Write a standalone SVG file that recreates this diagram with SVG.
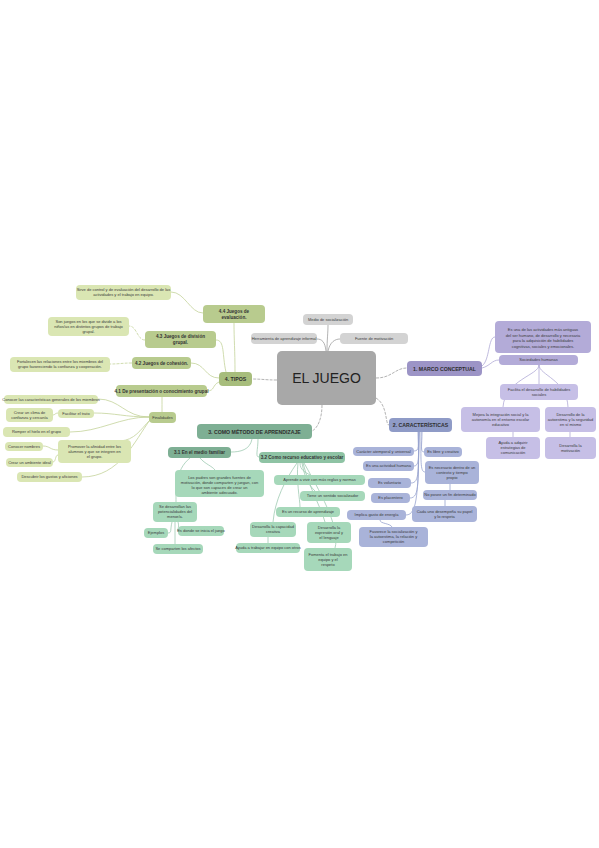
<svg xmlns="http://www.w3.org/2000/svg" width="599" height="848" viewBox="0 0 599 848">
<style>
text{font-family:"Liberation Sans",Arial,sans-serif;text-anchor:middle;fill:#3a3a3a}
.f14{font-size:14px;fill:#222}
.fm{font-size:5.2px;font-weight:bold;fill:#2e2e2e}
.fs{font-size:4.6px;font-weight:bold;fill:#333}
.fl{font-size:4px}
.cg{fill:#a8a8a8}.cgl{fill:#d3d3d3}
.po{fill:#9c94c6}.pl{fill:#c6bfe6}.pt{fill:#b3abd8}
.bo{fill:#8f9bc7}.bl{fill:#a9b3d9}
.eo{fill:#7eaf94}.es{fill:#8ec3a4}.el{fill:#a6d8ba}
.to{fill:#a7bd7c}.ts{fill:#b8cb8e}.tl{fill:#dae6b3}
#connectors path{fill:none;stroke-width:0.8}
.kg{stroke:#a0a0a0}.kd{stroke-dasharray:3 1.2}
.kp{stroke:#b0a9d6}.kb{stroke:#98a3cf}.ke{stroke:#9fcab2}.kt{stroke:#c4d39a}
</style>
<rect width="599" height="848" fill="#ffffff"/>
<g id="connectors">
<path class="kg kd" d="M277,380 C265,380 262,379 252,379"/>
<path class="kg" d="M327,351 C327,340 328,333 328,325"/>
<path class="kg" d="M326,351 C325,342 322,339 317,339"/>
<path class="kg" d="M328,351 C330,342 335,339 340,339"/>
<path class="kg kd" d="M376,378 C392,378 395,368 407,368"/>
<path class="kg kd" d="M376,398 C388,405 385,425 389,425"/>
<path class="kg kd" d="M322,405 C322,418 318,428 312,431"/>
<path class="kt" d="M235,372 C235,350 234,340 234,323"/>
<path class="kt" d="M226,372 C222,355 225,340 216,340"/>
<path class="kt" d="M219,378 C205,378 205,363 191,363"/>
<path class="kt" d="M219,382 C212,385 215,391 207,391"/>
<path class="kt" d="M203,313 C190,313 185,292 171,292"/>
<path class="kt kd" d="M145,340 C137,340 137,326 129,326"/>
<path class="kt kd" d="M132,363 C122,363 120,364 110,364"/>
<path class="kt" d="M162,397 C162,403 162,406 162,412"/>
<path class="kt" d="M149,417 C125,417 120,399 98,399"/>
<path class="kt" d="M149,417 C125,417 115,413 94,413"/>
<path class="kt" d="M149,417 C120,417 100,432 70,432"/>
<path class="kt" d="M150,420 C140,430 135,440 120,441"/>
<path class="kt" d="M150,420 C135,440 120,477 82,477"/>
<path class="kt" d="M58,413 C55,413 55,415 53,415"/>
<path class="kt" d="M58,450 C50,450 50,446 43,446"/>
<path class="kt" d="M58,455 C55,455 56,462 53,462"/>
<path class="kp" d="M482,366 C490,360 488,337 495,337"/>
<path class="kp" d="M482,368 C490,366 492,360 499,360"/>
<path class="kp" d="M539,365 L539,384"/>
<path class="kp" d="M539,365 C539,375 505,380 503,407"/>
<path class="kp" d="M539,365 C539,375 567,380 568,407"/>
<path class="kp" d="M513,432 L513,437"/>
<path class="kp" d="M570,432 L570,437"/>
<path class="kb" d="M418,432 C418,445 420,451 414,451"/>
<path class="kb" d="M422,432 C422,445 420,452 424,452"/>
<path class="kb" d="M419,432 C418,455 420,466 414,466"/>
<path class="kb" d="M421,432 C421,460 420,472 425,472"/>
<path class="kb" d="M419,432 C418,470 420,483 411,483"/>
<path class="kb" d="M419,432 C418,480 420,498 410,498"/>
<path class="kb" d="M419,432 C418,490 418,515 406,515"/>
<path class="kb" d="M450,484 L450,490"/>
<path class="kb" d="M445,500 L445,506"/>
<path class="kb" d="M380,520 C380,524 390,523 392,527"/>
<path class="ke" d="M252,439 C250,450 240,452 231,452"/>
<path class="ke" d="M258,439 C258,450 255,457 259,457"/>
<path class="ke" d="M200,458 C205,464 212,466 215,470"/>
<path class="ke" d="M190,458 C175,470 176,490 176,502"/>
<path class="ke" d="M172,522 C170,530 172,533 168,533"/>
<path class="ke" d="M178,522 C180,528 176,531 178,531"/>
<path class="ke" d="M175,522 L175,544"/>
<path class="ke" d="M300,463 C300,470 305,472 310,475"/>
<path class="ke" d="M302,463 C305,480 310,486 315,491"/>
<path class="ke" d="M298,463 C296,480 300,500 300,507"/>
<path class="ke" d="M303,463 C310,490 320,505 325,522"/>
<path class="ke" d="M304,463 C325,500 340,530 335,548"/>
<path class="ke" d="M297,463 C285,480 275,500 273,522"/>
<path class="ke" d="M268,537 L268,543"/>
</g>
<g id="n-center"><rect class="cg" x="277" y="351" width="99" height="54" rx="5"/><text class="f14" x="326.5" y="383">EL JUEGO</text></g>
<g id="n-g1"><rect class="cgl" x="303" y="314" width="50" height="11" rx="4"/><text class="fl" x="328" y="320.9">Medio de socialización</text></g>
<g id="n-g2"><rect class="cgl" x="251" y="333" width="66" height="11" rx="4"/><text class="fl" x="284" y="339.9">Herramienta de aprendizaje informal</text></g>
<g id="n-g3"><rect class="cgl" x="340" y="333" width="68" height="11" rx="4"/><text class="fl" x="374" y="339.9">Fuente de motivación</text></g>
<g id="n-p0"><rect class="po" x="407" y="361" width="75" height="15" rx="4"/><text class="fm" x="444.5" y="370.5">1. MARCO CONCEPTUAL</text></g>
<g id="n-p1"><rect class="pt" x="495" y="321" width="96" height="32" rx="4"/><text class="fl" x="543" y="331.2">Es una de las actividades más antiguas<tspan x="543" dy="5.5">del ser humano, de desarrollo y necesaria</tspan><tspan x="543" dy="5.5">para la adquisición de habilidades</tspan><tspan x="543" dy="5.5">cognitivas, sociales y emocionales.</tspan></text></g>
<g id="n-p2"><rect class="pt" x="499" y="355" width="79" height="10" rx="4"/><text class="fl" x="538.5" y="361.4">Sociedades humanas</text></g>
<g id="n-p3"><rect class="pl" x="500" y="384" width="78" height="16" rx="4"/><text class="fl" x="539" y="390.9">Facilita el desarrollo de habilidades<tspan x="539" dy="5">sociales</tspan></text></g>
<g id="n-p4"><rect class="pl" x="461" y="407" width="79" height="25" rx="4"/><text class="fl" x="500.5" y="415.9">Mejora la integración social y la<tspan x="500.5" dy="5">autonomía en el entorno escolar</tspan><tspan x="500.5" dy="5">educativo</tspan></text></g>
<g id="n-p5"><rect class="pl" x="545" y="407" width="51" height="25" rx="4"/><text class="fl" x="570.5" y="415.9">Desarrollo de la<tspan x="570.5" dy="5">autoestima y la seguridad</tspan><tspan x="570.5" dy="5">en sí mismo</tspan></text></g>
<g id="n-p6"><rect class="pl" x="486" y="437" width="54" height="22" rx="4"/><text class="fl" x="513" y="444.4">Ayuda a adquirir<tspan x="513" dy="5">estrategias de</tspan><tspan x="513" dy="5">comunicación</tspan></text></g>
<g id="n-p7"><rect class="pl" x="545" y="437" width="51" height="22" rx="4"/><text class="fl" x="570.5" y="446.9">Desarrolla la<tspan x="570.5" dy="5">motivación</tspan></text></g>
<g id="n-b0"><rect class="bo" x="389" y="418" width="63" height="14" rx="4"/><text class="fm" x="420.5" y="427">2. CARACTERÍSTICAS</text></g>
<g id="n-b1"><rect class="bl" x="353" y="447" width="61" height="9" rx="4"/><text class="fl" x="383.5" y="452.9">Carácter atemporal y universal</text></g>
<g id="n-b2"><rect class="bl" x="424" y="447" width="38" height="10" rx="4"/><text class="fl" x="443" y="453.4">Es libre y creativo</text></g>
<g id="n-b3"><rect class="bl" x="363" y="461" width="51" height="10" rx="4"/><text class="fl" x="388.5" y="467.4">Es una actividad humana</text></g>
<g id="n-b4"><rect class="bl" x="425" y="461" width="54" height="23" rx="4"/><text class="fl" x="452" y="468.9">Es necesario dentro de un<tspan x="452" dy="5">contexto y tiempo</tspan><tspan x="452" dy="5">propio</tspan></text></g>
<g id="n-b5"><rect class="bl" x="368" y="478" width="43" height="10" rx="4"/><text class="fl" x="389.5" y="484.4">Es voluntario</text></g>
<g id="n-b6"><rect class="bl" x="371" y="493" width="39" height="10" rx="4"/><text class="fl" x="390.5" y="499.4">Es placentero</text></g>
<g id="n-b7"><rect class="bl" x="423" y="490" width="54" height="10" rx="4"/><text class="fl" x="450" y="496.4">No posee un fin determinado</text></g>
<g id="n-b8"><rect class="bl" x="412" y="506" width="65" height="16" rx="4"/><text class="fl" x="444.5" y="512.9">Cada uno desempeña su papel<tspan x="444.5" dy="5">y lo respeta</tspan></text></g>
<g id="n-b9"><rect class="bl" x="347" y="510" width="59" height="10" rx="4"/><text class="fl" x="376.5" y="516.4">Implica gasto de energía</text></g>
<g id="n-b10"><rect class="bl" x="359" y="527" width="69" height="20" rx="4"/><text class="fl" x="393.5" y="533.4">Favorece la socialización y<tspan x="393.5" dy="5">la autoestima, la relación y</tspan><tspan x="393.5" dy="5">competición</tspan></text></g>
<g id="n-e0"><rect class="eo" x="197" y="424" width="115" height="15" rx="4"/><text class="fm" x="254.5" y="433.5">3. COMO MÉTODO DE APRENDIZAJE</text></g>
<g id="n-e1"><rect class="eo" x="168" y="447" width="63" height="11" rx="4"/><text class="fs" x="199.5" y="454.2">3.1 En el medio familiar</text></g>
<g id="n-e2"><rect class="es" x="259" y="452" width="86" height="11" rx="4"/><text class="fs" x="302" y="459.2">3.2 Como recurso educativo y escolar</text></g>
<g id="n-e3"><rect class="el" x="175" y="470" width="89" height="27" rx="4"/><text class="fl" x="219.5" y="478.9">Los padres son grandes fuentes de<tspan x="219.5" dy="5">motivación, donde comparten y juegan, con</tspan><tspan x="219.5" dy="5">lo que son capaces de crear un</tspan><tspan x="219.5" dy="5">ambiente adecuado.</tspan></text></g>
<g id="n-e4"><rect class="el" x="153" y="502" width="44" height="20" rx="4"/><text class="fl" x="175" y="508.4">Se desarrollan las<tspan x="175" dy="5">potencialidades del</tspan><tspan x="175" dy="5">menor/a.</tspan></text></g>
<g id="n-e5"><rect class="el" x="144" y="528" width="24" height="10" rx="4"/><text class="fl" x="156" y="534.4">Ejemplos</text></g>
<g id="n-e6"><rect class="el" x="178" y="526" width="46" height="10" rx="4"/><text class="fl" x="201" y="532.4">Es donde se inicia el juego</text></g>
<g id="n-e7"><rect class="el" x="153" y="544" width="50" height="10" rx="4"/><text class="fl" x="178" y="550.4">Se comparten los afectos</text></g>
<g id="n-e8"><rect class="el" x="274" y="475" width="91" height="10" rx="4"/><text class="fl" x="319.5" y="481.4">Aprende a vivir con más reglas y normas</text></g>
<g id="n-e9"><rect class="el" x="300" y="491" width="65" height="10" rx="4"/><text class="fl" x="332.5" y="497.4">Tiene un sentido socializador</text></g>
<g id="n-e10"><rect class="el" x="276" y="507" width="64" height="10" rx="4"/><text class="fl" x="308" y="513.4">Es un recurso de aprendizaje</text></g>
<g id="n-e11"><rect class="el" x="250" y="522" width="46" height="15" rx="4"/><text class="fl" x="273" y="528.4">Desarrolla la capacidad<tspan x="273" dy="5">creativa</tspan></text></g>
<g id="n-e12"><rect class="el" x="236" y="543" width="64" height="10" rx="4"/><text class="fl" x="268" y="549.4">Ayuda a trabajar en equipo con otros</text></g>
<g id="n-e13"><rect class="el" x="307" y="522" width="44" height="21" rx="4"/><text class="fl" x="329" y="528.9">Desarrolla la<tspan x="329" dy="5">expresión oral y</tspan><tspan x="329" dy="5">el lenguaje</tspan></text></g>
<g id="n-e14"><rect class="el" x="304" y="548" width="48" height="23" rx="4"/><text class="fl" x="328" y="555.9">Fomenta el trabajo en<tspan x="328" dy="5">equipo y el</tspan><tspan x="328" dy="5">respeto</tspan></text></g>
<g id="n-t0"><rect class="to" x="219" y="372" width="33" height="14" rx="4"/><text class="fm" x="235.5" y="381">4. TIPOS</text></g>
<g id="n-t1"><rect class="ts" x="203" y="305" width="62" height="18" rx="4"/><text class="fs" x="234" y="312.8">4.4 Juegos de<tspan x="234" dy="5.8">evaluación.</tspan></text></g>
<g id="n-t1l"><rect class="tl" x="76" y="285" width="95" height="15" rx="4"/><text class="fl" x="123.5" y="291.4">Sirve de control y de evaluación del desarrollo de las<tspan x="123.5" dy="5">actividades y el trabajo en equipo.</tspan></text></g>
<g id="n-t2"><rect class="ts" x="145" y="331" width="71" height="17" rx="4"/><text class="fs" x="180.5" y="338.3">4.3 Juegos de división<tspan x="180.5" dy="5.8">grupal.</tspan></text></g>
<g id="n-t2l"><rect class="tl" x="48" y="317" width="81" height="19" rx="4"/><text class="fl" x="88.5" y="322.9">Son juegos en los que se divide a los<tspan x="88.5" dy="5">niños/as en distintos grupos de trabajo</tspan><tspan x="88.5" dy="5">grupal.</tspan></text></g>
<g id="n-t3"><rect class="ts" x="132" y="357" width="59" height="12" rx="4"/><text class="fs" x="161.5" y="364.7">4.2 Juegos de cohesión.</text></g>
<g id="n-t3l"><rect class="tl" x="10" y="357" width="100" height="15" rx="4"/><text class="fl" x="60" y="363.4">Fortalecen las relaciones entre los miembros del<tspan x="60" dy="5">grupo favoreciendo la confianza y cooperación.</tspan></text></g>
<g id="n-t4"><rect class="ts" x="116" y="385" width="91" height="12" rx="4"/><text class="fs" x="161.5" y="392.7">4.1 De presentación o conocimiento grupal</text></g>
<g id="n-t5"><rect class="ts" x="149" y="412" width="27" height="11" rx="4"/><text class="fl" x="162.5" y="419">Finalidades</text></g>
<g id="n-l1"><rect class="tl" x="4" y="395" width="94" height="9" rx="4"/><text class="fl" x="51" y="400.9">Conocer las características generales de los miembros</text></g>
<g id="n-l2"><rect class="tl" x="6" y="408" width="47" height="14" rx="4"/><text class="fl" x="29.5" y="413.9">Crear un clima de<tspan x="29.5" dy="5">confianza y cercanía</tspan></text></g>
<g id="n-l3"><rect class="tl" x="58" y="409" width="36" height="9" rx="4"/><text class="fl" x="76" y="414.9">Facilitar el trato</text></g>
<g id="n-l4"><rect class="tl" x="3" y="427" width="67" height="10" rx="4"/><text class="fl" x="36.5" y="433.4">Romper el hielo en el grupo</text></g>
<g id="n-l5"><rect class="tl" x="5" y="442" width="38" height="9" rx="4"/><text class="fl" x="24" y="447.9">Conocer nombres</text></g>
<g id="n-l6"><rect class="tl" x="58" y="440" width="73" height="23" rx="4"/><text class="fl" x="94.5" y="447.9">Promover la afinidad entre los<tspan x="94.5" dy="5">alumnos y que se integren en</tspan><tspan x="94.5" dy="5">el grupo.</tspan></text></g>
<g id="n-l7"><rect class="tl" x="6" y="458" width="47" height="9" rx="4"/><text class="fl" x="29.5" y="463.9">Crear un ambiente ideal</text></g>
<g id="n-l8"><rect class="tl" x="17" y="472" width="65" height="10" rx="4"/><text class="fl" x="49.5" y="478.4">Descubrir los gustos y aficiones</text></g>
</svg>
